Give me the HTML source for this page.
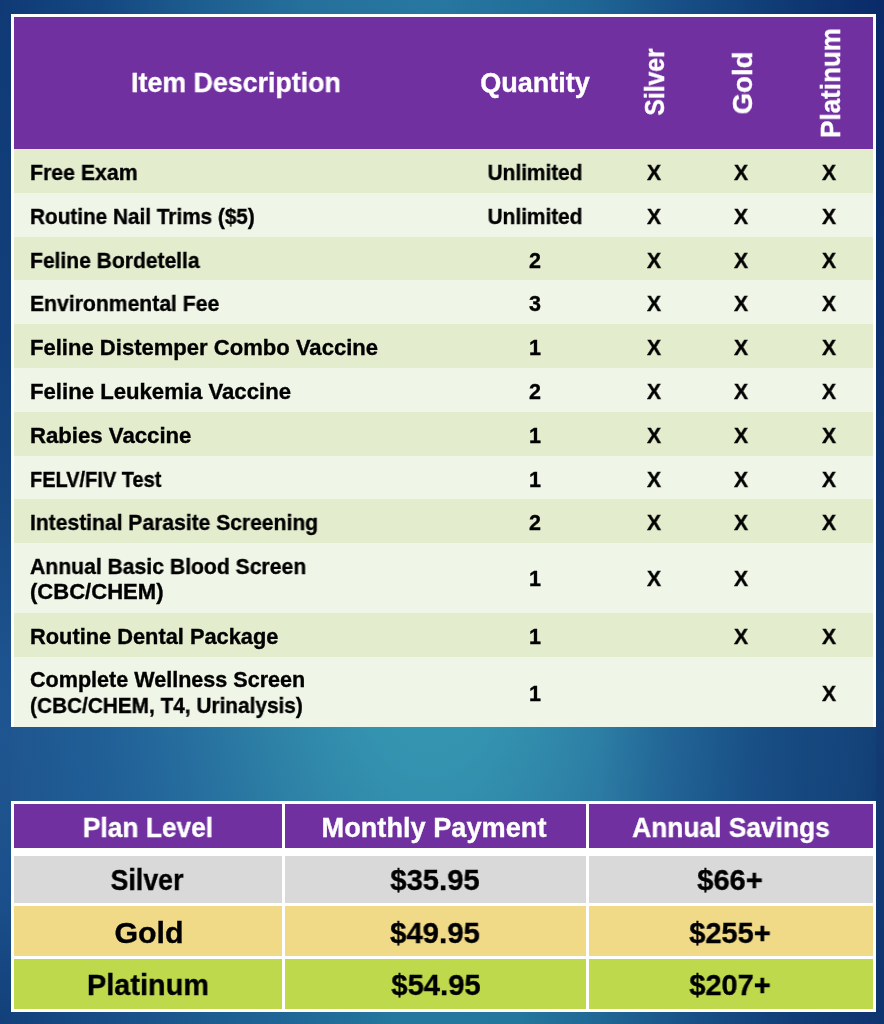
<!DOCTYPE html>
<html lang="en"><head><meta charset="utf-8"><title>Wellness Plans</title>
<style>
html,body{margin:0;padding:0}
body{width:884px;height:1024px;overflow:hidden;position:relative;font-family:"Liberation Sans",sans-serif;font-weight:bold;background:linear-gradient(90deg,rgba(10,51,103,0) 600px,rgba(10,51,103,.46) 800px,rgba(10,51,103,.55) 884px),radial-gradient(ellipse 500px 1110px at 430px 540px,#379CB5 0,#3494B0 19.8%,#2F85A8 32.6%,#27709F 50%,#205E96 69%,#1F558F 88%,#0F3C76 98.4%,#0B2C6A 112%) #0B2C6A}
.b{position:absolute}
.t{position:absolute;white-space:nowrap;line-height:1;-webkit-text-stroke:0.35px currentColor;will-change:transform}
.l{transform-origin:0 50%}
</style></head><body>
<div class="b" style="left:0;top:0;width:11px;height:1024px;background:linear-gradient(180deg,#0F3A75 0px,#123F7A 340px,#17477F 500px,#1D5490 680px,#1F558F 760px,#1B4F8B 900px,#124079 1024px)"></div>
<div class="b" style="left:876px;top:0;width:8px;height:1024px;background:linear-gradient(180deg,#0A2A68 0px,#0C2F6D 256px,#0F3672 512px,#123C75 700px,#123A72 760px,#0E3470 1024px)"></div>
<div class="b" style="left:0;top:0;width:884px;height:14px;background:linear-gradient(90deg,#0F3A75 0px,#144780 100px,#1D5E90 200px,#256F9B 300px,#2778A1 430px,#1F6896 584px,#174E85 684px,#0F3A74 784px,#0A2A68 884px)"></div>
<div class="b" style="left:0;top:1012px;width:884px;height:12px;background:linear-gradient(90deg,#12407A 0px,#1A548A 150px,#1F6897 300px,#24789D 400px,#23769C 520px,#1F6795 600px,#174F85 700px,#113C76 800px,#0E3470 884px)"></div>
<div class="b" style="left:11px;top:14px;width:865px;height:713px;background:#fff"></div>
<div class="b" style="left:14px;top:17px;width:859px;height:132px;background:#7030A0"></div>
<div class="b" style="left:14px;top:149px;width:859px;height:44px;background:#E3EDCD"></div>
<div class="b" style="left:14px;top:193px;width:859px;height:44px;background:#F0F6E7"></div>
<div class="b" style="left:14px;top:237px;width:859px;height:43px;background:#E3EDCD"></div>
<div class="b" style="left:14px;top:280px;width:859px;height:44px;background:#F0F6E7"></div>
<div class="b" style="left:14px;top:324px;width:859px;height:44px;background:#E3EDCD"></div>
<div class="b" style="left:14px;top:368px;width:859px;height:44px;background:#F0F6E7"></div>
<div class="b" style="left:14px;top:412px;width:859px;height:44px;background:#E3EDCD"></div>
<div class="b" style="left:14px;top:456px;width:859px;height:43px;background:#F0F6E7"></div>
<div class="b" style="left:14px;top:499px;width:859px;height:44px;background:#E3EDCD"></div>
<div class="b" style="left:14px;top:543px;width:859px;height:70px;background:#F0F6E7"></div>
<div class="b" style="left:14px;top:613px;width:859px;height:44px;background:#E3EDCD"></div>
<div class="b" style="left:14px;top:657px;width:859px;height:70px;background:#F0F6E7"></div>
<div class="b" style="left:11px;top:801px;width:865px;height:211px;background:#fff"></div>
<div class="b" style="left:14px;top:804px;width:268px;height:44px;background:#7030A0"></div>
<div class="b" style="left:14px;top:856px;width:268px;height:47px;background:#D9D9D9"></div>
<div class="b" style="left:14px;top:906.4px;width:268px;height:49.4px;background:#F0D987"></div>
<div class="b" style="left:14px;top:959.2px;width:268px;height:49.6px;background:#BFD94C"></div>
<div class="b" style="left:285px;top:804px;width:300.5px;height:44px;background:#7030A0"></div>
<div class="b" style="left:285px;top:856px;width:300.5px;height:47px;background:#D9D9D9"></div>
<div class="b" style="left:285px;top:906.4px;width:300.5px;height:49.4px;background:#F0D987"></div>
<div class="b" style="left:285px;top:959.2px;width:300.5px;height:49.6px;background:#BFD94C"></div>
<div class="b" style="left:588.5px;top:804px;width:284.5px;height:44px;background:#7030A0"></div>
<div class="b" style="left:588.5px;top:856px;width:284.5px;height:47px;background:#D9D9D9"></div>
<div class="b" style="left:588.5px;top:906.4px;width:284.5px;height:49.4px;background:#F0D987"></div>
<div class="b" style="left:588.5px;top:959.2px;width:284.5px;height:49.6px;background:#BFD94C"></div>
<div class="t" style="left:235.74px;top:70.20px;font-size:27px;color:#fff;transform:translateX(-50%) scaleX(0.9919)">Item Description</div>
<div class="t" style="left:534.96px;top:70.10px;font-size:27px;color:#fff;transform:translateX(-50%) scaleX(1.0016)">Quantity</div>
<div class="t" style="left:655.00px;top:82.06px;font-size:28px;color:#fff;transform:translate(-50%,-50%) rotate(-90deg) scaleX(0.8805)">Silver</div>
<div class="t" style="left:743.25px;top:82.83px;font-size:28px;color:#fff;transform:translate(-50%,-50%) rotate(-90deg) scaleX(0.9846)">Gold</div>
<div class="t" style="left:830.75px;top:82.55px;font-size:28px;color:#fff;transform:translate(-50%,-50%) rotate(-90deg) scaleX(0.9281)">Platinum</div>
<div class="t l" style="left:29.50px;top:162.90px;font-size:21.5px;color:#000;transform:scaleX(0.9885)">Free Exam</div>
<div class="t" style="left:534.51px;top:162.90px;font-size:21.5px;color:#000;transform:translateX(-50%) scaleX(0.9697)">Unlimited</div>
<div class="t" style="left:654.39px;top:162.90px;font-size:21.5px;color:#000;transform:translateX(-50%) scaleX(0.9850)">X</div>
<div class="t" style="left:741.39px;top:162.90px;font-size:21.5px;color:#000;transform:translateX(-50%) scaleX(0.9850)">X</div>
<div class="t" style="left:828.89px;top:162.90px;font-size:21.5px;color:#000;transform:translateX(-50%) scaleX(0.9850)">X</div>
<div class="t l" style="left:29.50px;top:206.80px;font-size:21.5px;color:#000;transform:scaleX(0.9648)">Routine Nail Trims ($5)</div>
<div class="t" style="left:534.51px;top:206.80px;font-size:21.5px;color:#000;transform:translateX(-50%) scaleX(0.9697)">Unlimited</div>
<div class="t" style="left:654.39px;top:206.80px;font-size:21.5px;color:#000;transform:translateX(-50%) scaleX(0.9850)">X</div>
<div class="t" style="left:741.39px;top:206.80px;font-size:21.5px;color:#000;transform:translateX(-50%) scaleX(0.9850)">X</div>
<div class="t" style="left:828.89px;top:206.80px;font-size:21.5px;color:#000;transform:translateX(-50%) scaleX(0.9850)">X</div>
<div class="t l" style="left:29.50px;top:250.70px;font-size:21.5px;color:#000;transform:scaleX(0.9792)">Feline Bordetella</div>
<div class="t" style="left:534.84px;top:250.70px;font-size:21.5px;color:#000;transform:translateX(-50%) scaleX(1.0000)">2</div>
<div class="t" style="left:654.39px;top:250.70px;font-size:21.5px;color:#000;transform:translateX(-50%) scaleX(0.9850)">X</div>
<div class="t" style="left:741.39px;top:250.70px;font-size:21.5px;color:#000;transform:translateX(-50%) scaleX(0.9850)">X</div>
<div class="t" style="left:828.89px;top:250.70px;font-size:21.5px;color:#000;transform:translateX(-50%) scaleX(0.9850)">X</div>
<div class="t l" style="left:29.50px;top:294.45px;font-size:21.5px;color:#000;transform:scaleX(0.9838)">Environmental Fee</div>
<div class="t" style="left:534.69px;top:294.45px;font-size:21.5px;color:#000;transform:translateX(-50%) scaleX(1.0000)">3</div>
<div class="t" style="left:654.39px;top:294.45px;font-size:21.5px;color:#000;transform:translateX(-50%) scaleX(0.9850)">X</div>
<div class="t" style="left:741.39px;top:294.45px;font-size:21.5px;color:#000;transform:translateX(-50%) scaleX(0.9850)">X</div>
<div class="t" style="left:828.89px;top:294.45px;font-size:21.5px;color:#000;transform:translateX(-50%) scaleX(0.9850)">X</div>
<div class="t l" style="left:29.50px;top:338.25px;font-size:21.5px;color:#000;transform:scaleX(1.0256)">Feline Distemper Combo Vaccine</div>
<div class="t" style="left:534.50px;top:338.25px;font-size:21.5px;color:#000;transform:translateX(-50%) scaleX(1.0000)">1</div>
<div class="t" style="left:654.39px;top:338.25px;font-size:21.5px;color:#000;transform:translateX(-50%) scaleX(0.9850)">X</div>
<div class="t" style="left:741.39px;top:338.25px;font-size:21.5px;color:#000;transform:translateX(-50%) scaleX(0.9850)">X</div>
<div class="t" style="left:828.89px;top:338.25px;font-size:21.5px;color:#000;transform:translateX(-50%) scaleX(0.9850)">X</div>
<div class="t l" style="left:29.50px;top:382.00px;font-size:21.5px;color:#000;transform:scaleX(1.0301)">Feline Leukemia Vaccine</div>
<div class="t" style="left:534.84px;top:382.00px;font-size:21.5px;color:#000;transform:translateX(-50%) scaleX(1.0000)">2</div>
<div class="t" style="left:654.39px;top:382.00px;font-size:21.5px;color:#000;transform:translateX(-50%) scaleX(0.9850)">X</div>
<div class="t" style="left:741.39px;top:382.00px;font-size:21.5px;color:#000;transform:translateX(-50%) scaleX(0.9850)">X</div>
<div class="t" style="left:828.89px;top:382.00px;font-size:21.5px;color:#000;transform:translateX(-50%) scaleX(0.9850)">X</div>
<div class="t l" style="left:29.50px;top:425.80px;font-size:21.5px;color:#000;transform:scaleX(1.0309)">Rabies Vaccine</div>
<div class="t" style="left:534.50px;top:425.80px;font-size:21.5px;color:#000;transform:translateX(-50%) scaleX(1.0000)">1</div>
<div class="t" style="left:654.39px;top:425.80px;font-size:21.5px;color:#000;transform:translateX(-50%) scaleX(0.9850)">X</div>
<div class="t" style="left:741.39px;top:425.80px;font-size:21.5px;color:#000;transform:translateX(-50%) scaleX(0.9850)">X</div>
<div class="t" style="left:828.89px;top:425.80px;font-size:21.5px;color:#000;transform:translateX(-50%) scaleX(0.9850)">X</div>
<div class="t l" style="left:29.50px;top:469.60px;font-size:21.5px;color:#000;transform:scaleX(0.9292)">FELV/FIV Test</div>
<div class="t" style="left:534.50px;top:469.60px;font-size:21.5px;color:#000;transform:translateX(-50%) scaleX(1.0000)">1</div>
<div class="t" style="left:654.35px;top:469.60px;font-size:21.5px;color:#000;transform:translateX(-50%) scaleX(0.9850)">X</div>
<div class="t" style="left:741.35px;top:469.60px;font-size:21.5px;color:#000;transform:translateX(-50%) scaleX(0.9850)">X</div>
<div class="t" style="left:828.85px;top:469.60px;font-size:21.5px;color:#000;transform:translateX(-50%) scaleX(0.9850)">X</div>
<div class="t l" style="left:29.50px;top:513.35px;font-size:21.5px;color:#000;transform:scaleX(0.9800)">Intestinal Parasite Screening</div>
<div class="t" style="left:534.84px;top:513.35px;font-size:21.5px;color:#000;transform:translateX(-50%) scaleX(1.0000)">2</div>
<div class="t" style="left:654.39px;top:513.35px;font-size:21.5px;color:#000;transform:translateX(-50%) scaleX(0.9850)">X</div>
<div class="t" style="left:741.39px;top:513.35px;font-size:21.5px;color:#000;transform:translateX(-50%) scaleX(0.9850)">X</div>
<div class="t" style="left:828.89px;top:513.35px;font-size:21.5px;color:#000;transform:translateX(-50%) scaleX(0.9850)">X</div>
<div class="t l" style="left:29.64px;top:556.60px;font-size:21.5px;color:#000;transform:scaleX(0.9836)">Annual Basic Blood Screen</div>
<div class="t l" style="left:29.50px;top:582.25px;font-size:21.5px;color:#000;transform:scaleX(1.0253)">(CBC/CHEM)</div>
<div class="t" style="left:534.50px;top:569.45px;font-size:21.5px;color:#000;transform:translateX(-50%) scaleX(1.0000)">1</div>
<div class="t" style="left:654.39px;top:569.45px;font-size:21.5px;color:#000;transform:translateX(-50%) scaleX(0.9850)">X</div>
<div class="t" style="left:741.39px;top:569.45px;font-size:21.5px;color:#000;transform:translateX(-50%) scaleX(0.9850)">X</div>
<div class="t l" style="left:29.50px;top:626.60px;font-size:21.5px;color:#000;transform:scaleX(1.0142)">Routine Dental Package</div>
<div class="t" style="left:534.50px;top:626.60px;font-size:21.5px;color:#000;transform:translateX(-50%) scaleX(1.0000)">1</div>
<div class="t" style="left:741.35px;top:626.60px;font-size:21.5px;color:#000;transform:translateX(-50%) scaleX(0.9850)">X</div>
<div class="t" style="left:828.85px;top:626.60px;font-size:21.5px;color:#000;transform:translateX(-50%) scaleX(0.9850)">X</div>
<div class="t l" style="left:29.86px;top:670.25px;font-size:21.5px;color:#000;transform:scaleX(1.0029)">Complete Wellness Screen</div>
<div class="t l" style="left:29.50px;top:695.95px;font-size:21.5px;color:#000;transform:scaleX(0.9675)">(CBC/CHEM, T4, Urinalysis)</div>
<div class="t" style="left:534.50px;top:683.55px;font-size:21.5px;color:#000;transform:translateX(-50%) scaleX(1.0000)">1</div>
<div class="t" style="left:828.83px;top:683.55px;font-size:21.5px;color:#000;transform:translateX(-50%) scaleX(0.9850)">X</div>
<div class="t" style="left:148.37px;top:815.15px;font-size:27px;color:#fff;transform:translateX(-50%) scaleX(0.9752)">Plan Level</div>
<div class="t" style="left:433.52px;top:815.15px;font-size:27px;color:#fff;transform:translateX(-50%) scaleX(1.0060)">Monthly Payment</div>
<div class="t" style="left:730.83px;top:815.15px;font-size:27px;color:#fff;transform:translateX(-50%) scaleX(0.9762)">Annual Savings</div>
<div class="t" style="left:147.15px;top:865.00px;font-size:30px;color:#000;transform:translateX(-50%) scaleX(0.8930)">Silver</div>
<div class="t" style="left:435.29px;top:865.00px;font-size:30px;color:#000;transform:translateX(-50%) scaleX(0.9752)">$35.95</div>
<div class="t" style="left:729.78px;top:865.00px;font-size:30px;color:#000;transform:translateX(-50%) scaleX(0.9719)">$66+</div>
<div class="t" style="left:148.63px;top:917.50px;font-size:30px;color:#000;transform:translateX(-50%) scaleX(1.0120)">Gold</div>
<div class="t" style="left:435.35px;top:917.50px;font-size:30px;color:#000;transform:translateX(-50%) scaleX(0.9798)">$49.95</div>
<div class="t" style="left:730.39px;top:917.50px;font-size:30px;color:#000;transform:translateX(-50%) scaleX(0.9678)">$255+</div>
<div class="t" style="left:147.51px;top:970.30px;font-size:30px;color:#000;transform:translateX(-50%) scaleX(0.9633)">Platinum</div>
<div class="t" style="left:435.58px;top:970.30px;font-size:30px;color:#000;transform:translateX(-50%) scaleX(0.9752)">$54.95</div>
<div class="t" style="left:730.35px;top:970.30px;font-size:30px;color:#000;transform:translateX(-50%) scaleX(0.9665)">$207+</div>
</body></html>
